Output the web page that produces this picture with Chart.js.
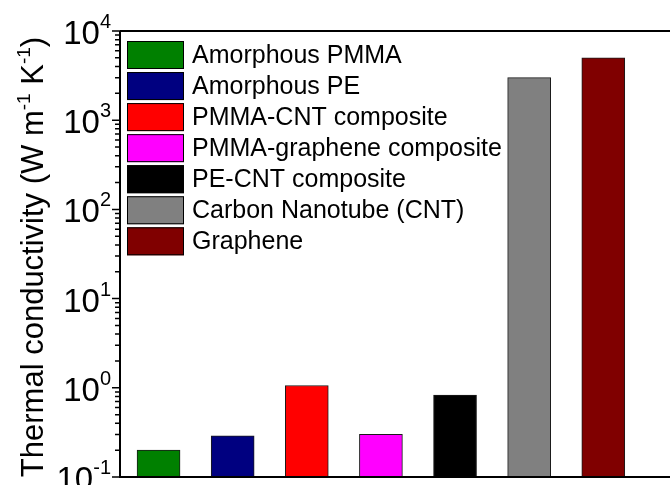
<!DOCTYPE html>
<html>
<head>
<meta charset="utf-8">
<script src="https://cdn.jsdelivr.net/npm/chart.js@4"></script>
<style>
  body { margin: 0; background: #fff; }
  #wrap { width: 670px; height: 485px; }
</style>
</head>
<body>
<div id="wrap"><canvas id="myChart" width="670" height="485"></canvas></div>
<script>
const categories = [
  "Amorphous PMMA",
  "Amorphous PE",
  "PMMA-CNT composite",
  "PMMA-graphene composite",
  "PE-CNT composite",
  "Carbon Nanotube (CNT)",
  "Graphene",
];
const conductivity = [0.2, 0.29, 1.06, 0.3, 0.83, 3000, 5000];
const barColors = ["#008000", "#000080", "#ff0000", "#ff00ff", "#000000", "#808080", "#800000"];
const yTickExponents = [-1, 0, 1, 2, 3, 4];

const FONT = "'Liberation Sans', Arial, sans-serif";

// axes, log ticks with powers of ten, y title and the in-plot legend
const decorations = {
  id: "decorations",
  afterDatasetsDraw(chart) {
    const ctx = chart.ctx;
    const a = chart.chartArea;
    const y = chart.scales.y;
    ctx.save();

    ctx.strokeStyle = "#000";
    ctx.lineWidth = 2;
    ctx.beginPath();
    ctx.moveTo(a.left, a.top);
    ctx.lineTo(a.right, a.top);
    ctx.moveTo(a.left, a.top);
    ctx.lineTo(a.left, a.bottom);
    ctx.lineTo(a.right, a.bottom);
    ctx.stroke();

    ctx.lineWidth = 1.5;
    ctx.beginPath();
    yTickExponents.forEach((e, i) => {
      const py = y.getPixelForValue(Math.pow(10, e));
      ctx.moveTo(a.left - 8, py);
      ctx.lineTo(a.left, py);
      if (i < yTickExponents.length - 1) {
        for (let k = 2; k <= 9; k++) {
          const pm = y.getPixelForValue(k * Math.pow(10, e));
          ctx.moveTo(a.left - 5, pm);
          ctx.lineTo(a.left, pm);
        }
      }
    });
    ctx.stroke();

    // tick labels: "10" with raised exponent
    ctx.fillStyle = "#000";
    ctx.textBaseline = "alphabetic";
    ctx.textAlign = "left";
    yTickExponents.forEach((e) => {
      const py = y.getPixelForValue(Math.pow(10, e));
      ctx.font = "33px " + FONT;
      const w1 = ctx.measureText("10").width;
      ctx.font = "20px " + FONT;
      const w2 = ctx.measureText(String(e)).width;
      const x0 = a.left - 9 - w1 - w2;
      ctx.font = "33px " + FONT;
      ctx.fillText("10", x0, py + 13);
      ctx.font = "20px " + FONT;
      ctx.fillText(String(e), x0 + w1, py - 3);
    });

    // y axis title with superscripts
    const parts = [
      ["Thermal conductivity (W m", false],
      ["-1", true],
      [" K", false],
      ["-1", true],
      [")", false],
    ];
    const mainFont = "31px " + FONT;
    const supFont = "19px " + FONT;
    let total = 0;
    parts.forEach((p) => {
      ctx.font = p[1] ? supFont : mainFont;
      total += ctx.measureText(p[0]).width;
    });
    ctx.save();
    ctx.translate(43, 257);
    ctx.rotate(-Math.PI / 2);
    let tx = -total / 2;
    parts.forEach((p) => {
      ctx.font = p[1] ? supFont : mainFont;
      ctx.fillText(p[0], tx, p[1] ? -13 : 0);
      tx += ctx.measureText(p[0]).width;
    });
    ctx.restore();

    // legend
    ctx.font = "25px " + FONT;
    ctx.textBaseline = "middle";
    ctx.lineWidth = 1;
    categories.forEach((name, i) => {
      const by = 41 + i * 31.05;
      ctx.fillStyle = barColors[i];
      ctx.fillRect(127, by, 57, 28);
      ctx.strokeStyle = "#000";
      ctx.strokeRect(127.5, by + 0.5, 56, 27);
      ctx.fillStyle = "#000";
      ctx.fillText(name, 192, by + 15);
    });

    ctx.restore();
  },
};

const myChart = new Chart(document.querySelector("#myChart"), {
  type: "bar",
  data: {
    datasets: [
      {
        data: conductivity.map((v, i) => ({ x: i + 1, y: v })),
        backgroundColor: barColors,
        borderColor: "#1a1a1a",
        borderWidth: 1,
        barThickness: 43,
      },
    ],
  },
  options: {
    responsive: false,
    animation: false,
    layout: { padding: { left: 120, top: 31, right: 0, bottom: 8 } },
    plugins: { legend: { display: false }, tooltip: { enabled: false } },
    scales: {
      x: { type: "linear", min: 0.48, max: 7.9, offset: false, display: false },
      y: { type: "logarithmic", min: 0.1, max: 10000, display: false },
    },
  },
  plugins: [decorations],
});
</script>
</body>
</html>
